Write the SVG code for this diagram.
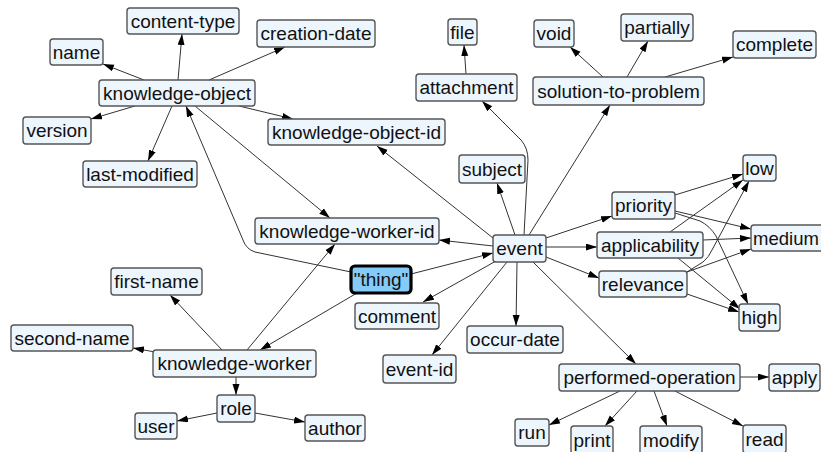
<svg xmlns="http://www.w3.org/2000/svg" width="821" height="452" viewBox="0 0 821 452">
<style>
.n rect{fill:#edf5fd;stroke:#555;stroke-width:1.4}
.n text{font-family:"Liberation Sans",Arial,sans-serif;font-size:19px;fill:#111;text-anchor:middle}
#thing rect{fill:#85cbf7;stroke:#000;stroke-width:3.2}
.e path{fill:none;stroke:#333;stroke-width:1;marker-end:url(#arr)}
</style>
<defs>
<marker id="arr" markerUnits="userSpaceOnUse" markerWidth="12" markerHeight="8" refX="11" refY="3.5" orient="auto">
<path d="M0,0 L11,3.5 L0,7 z" fill="#000"/>
</marker>
</defs>
<rect width="821" height="452" fill="#fff"/>
<g id="connectors" class="e">
<path d="M144,80 L103,64"/>
<path d="M178,80 L182,34"/>
<path d="M209,80 L285,47"/>
<path d="M135,106 L91,119"/>
<path d="M172,106 L148,161"/>
<path d="M239,106 L293,119"/>
<path d="M195,106 L330,218"/>
<path d="M351,272 L255,252 Q246,249 243,240 L186,106"/>
<path d="M357,293 L260,350"/>
<path d="M411,274 L493,253"/>
<path d="M247,350 L335,244"/>
<path d="M222,350 L170,295"/>
<path d="M155,352 L133,348"/>
<path d="M236,377 L236,395"/>
<path d="M217,413 L177,421"/>
<path d="M255,413 L305,422"/>
<path d="M493,238 L377,146"/>
<path d="M493,246 L439,240"/>
<path d="M524,235 L528,160 Q528,148 521,140 L482,101"/>
<path d="M515,235 L497,183"/>
<path d="M529,235 L610,105"/>
<path d="M546,238 L612,216"/>
<path d="M546,247 L597,247"/>
<path d="M546,257 L599,278"/>
<path d="M517,262 L516,326"/>
<path d="M507,262 L432,355"/>
<path d="M496,261 L423,302"/>
<path d="M533,262 L636,364"/>
<path d="M466,74 L464,45"/>
<path d="M603,77 L570,47"/>
<path d="M627,77 L648,41"/>
<path d="M665,77 L733,57"/>
<path d="M675,195 L743,174"/>
<path d="M675,211 L751,229"/>
<path d="M675,213 L700,221 Q710,226 716,236 L748,304"/>
<path d="M670,232 L743,180"/>
<path d="M703,240 L751,238"/>
<path d="M678,258 L740,309"/>
<path d="M687,272 L703,262 Q709,257 712,250 L749,181"/>
<path d="M687,272 L751,249"/>
<path d="M687,294 L739,312"/>
<path d="M740,377 L769,377"/>
<path d="M620,391 L549,425"/>
<path d="M637,391 L605,426"/>
<path d="M654,391 L667,426"/>
<path d="M675,391 L743,426"/>
</g>
<g id="content-type" class="n"><rect x="127" y="8" width="112" height="26" rx="3"/><text x="183" y="27.5">content-type</text></g>
<g id="creation-date" class="n"><rect x="257" y="20" width="118" height="27" rx="3"/><text x="316" y="40">creation-date</text></g>
<g id="name" class="n"><rect x="50" y="39" width="53" height="26" rx="3"/><text x="76.5" y="58.5">name</text></g>
<g id="knowledge-object" class="n"><rect x="99" y="80" width="156" height="26" rx="3"/><text x="177" y="99.5">knowledge-object</text></g>
<g id="version" class="n"><rect x="23" y="117" width="68" height="27" rx="3"/><text x="57" y="137">version</text></g>
<g id="last-modified" class="n"><rect x="83" y="161" width="114" height="26" rx="3"/><text x="140" y="180.5">last-modified</text></g>
<g id="knowledge-object-id" class="n"><rect x="268" y="119" width="177" height="26" rx="3"/><text x="356.5" y="138.5">knowledge-object-id</text></g>
<g id="file" class="n"><rect x="448" y="19" width="29" height="26" rx="3"/><text x="462.5" y="38.5">file</text></g>
<g id="void" class="n"><rect x="534" y="20" width="40" height="27" rx="3"/><text x="554" y="40">void</text></g>
<g id="partially" class="n"><rect x="621" y="14" width="72" height="27" rx="3"/><text x="657" y="34">partially</text></g>
<g id="complete" class="n"><rect x="733" y="31" width="83" height="27" rx="3"/><text x="774.5" y="51">complete</text></g>
<g id="attachment" class="n"><rect x="416" y="74" width="101" height="27" rx="3"/><text x="466.5" y="94">attachment</text></g>
<g id="solution-to-problem" class="n"><rect x="533" y="77" width="171" height="28" rx="3"/><text x="618.5" y="97.5">solution-to-problem</text></g>
<g id="subject" class="n"><rect x="459" y="155" width="66" height="28" rx="3"/><text x="492" y="175.5">subject</text></g>
<g id="low" class="n"><rect x="743" y="155" width="33" height="26" rx="3"/><text x="759.5" y="174.5">low</text></g>
<g id="priority" class="n"><rect x="612" y="192" width="63" height="27" rx="3"/><text x="643.5" y="212">priority</text></g>
<g id="applicability" class="n"><rect x="597" y="232" width="106" height="26" rx="3"/><text x="650" y="251.5">applicability</text></g>
<g id="medium" class="n"><rect x="751" y="225" width="76" height="26" rx="3"/><text x="786" y="244.5" style="font-size:18.5px">medium</text></g>
<g id="event" class="n"><rect x="493" y="235" width="53" height="27" rx="3"/><text x="519.5" y="255">event</text></g>
<g id="relevance" class="n"><rect x="599" y="271" width="88" height="26" rx="3"/><text x="643" y="290.5">relevance</text></g>
<g id="high" class="n"><rect x="739" y="304" width="41" height="27" rx="3"/><text x="759.5" y="324">high</text></g>
<g id="occur-date" class="n"><rect x="467" y="326" width="96" height="27" rx="3"/><text x="515" y="346">occur-date</text></g>
<g id="event-id" class="n"><rect x="383" y="355" width="73" height="28" rx="3"/><text x="419.5" y="375.5">event-id</text></g>
<g id="performed-operation" class="n"><rect x="559" y="364" width="181" height="27" rx="3"/><text x="649.5" y="384">performed-operation</text></g>
<g id="apply" class="n"><rect x="769" y="364" width="51" height="27" rx="3"/><text x="794.5" y="384">apply</text></g>
<g id="run" class="n"><rect x="515" y="419" width="34" height="27" rx="3"/><text x="532" y="439">run</text></g>
<g id="print" class="n"><rect x="571" y="426" width="42" height="28" rx="3"/><text x="592" y="446.5">print</text></g>
<g id="modify" class="n"><rect x="640" y="426" width="62" height="28" rx="3"/><text x="671" y="446.5">modify</text></g>
<g id="read" class="n"><rect x="743" y="425" width="43" height="28" rx="3"/><text x="764.5" y="445.5">read</text></g>
<g id="knowledge-worker-id" class="n"><rect x="255" y="218" width="184" height="26" rx="3"/><text x="347" y="237.5">knowledge-worker-id</text></g>
<g id="thing" class="n"><rect x="351" y="266" width="60" height="27" rx="4"/><text x="381" y="286">"thing"</text></g>
<g id="first-name" class="n"><rect x="111" y="268" width="91" height="27" rx="3"/><text x="156.5" y="288">first-name</text></g>
<g id="second-name" class="n"><rect x="11" y="325" width="122" height="26" rx="3"/><text x="72" y="344.5">second-name</text></g>
<g id="knowledge-worker" class="n"><rect x="153" y="350" width="163" height="27" rx="3"/><text x="234.5" y="370">knowledge-worker</text></g>
<g id="comment" class="n"><rect x="355" y="303" width="84" height="26" rx="3"/><text x="397" y="322.5">comment</text></g>
<g id="role" class="n"><rect x="217" y="395" width="38" height="27" rx="3"/><text x="236" y="415">role</text></g>
<g id="user" class="n"><rect x="135" y="413" width="42" height="26" rx="3"/><text x="156" y="432.5">user</text></g>
<g id="author" class="n"><rect x="305" y="415" width="60" height="26" rx="3"/><text x="335" y="434.5">author</text></g>
</svg>
